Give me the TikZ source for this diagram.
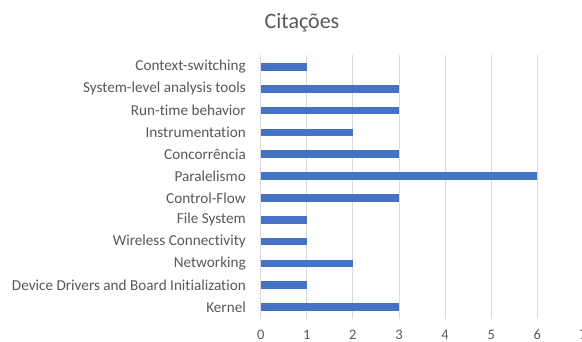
\documentclass[tikz,border=0pt]{standalone}
\usepackage{fontspec}
\setmainfont{Carlito}[Ligatures={NoCommon}]
\definecolor{barblue}{HTML}{4472C4}
\definecolor{txtgray}{HTML}{595959}
\definecolor{gridgray}{HTML}{D9D9D9}
\tikzset{
  bar/.style={fill=barblue, draw=none},
  gridline/.style={draw=gridgray, line width=0.9pt},
  catlabel/.style={anchor=east, inner sep=0pt, text=txtgray, font=\fontsize{15.2}{15.2}\selectfont},
  ticklabel/.style={anchor=center, inner sep=0pt, text=txtgray, font=\fontsize{14.5}{14.5}\selectfont},
  titlelabel/.style={anchor=center, inner sep=0pt, text=txtgray, font=\fontsize{22}{22}\selectfont}
}
\begin{document}
\begin{tikzpicture}[x=1pt, y=-1pt]
\useasboundingbox (0,0) rectangle (582,341);
\fill[white] (0,0) rectangle (582,341);
\node[titlelabel] (title) at (302,23) {Citações};
% gridlines and tick labels
\foreach \v in {0,...,7}{
  \pgfmathsetmacro{\gx}{260.7+46.1*\v}
  \ifnum\v<7
    \draw[gridline] (\gx,55) -- (\gx,319);
  \fi
  \node[ticklabel] (tick\v) at (\gx,334.5) {\v};
}
% bars
\foreach \i/\name/\val in {0/Context-switching/1, 1/System-level analysis tools/3, 2/Run-time behavior/3, 3/Instrumentation/2, 4/Concorrência/3, 5/Paralelismo/6, 6/Control-Flow/3, 7/File System/1, 8/Wireless Connectivity/1, 9/Networking/2, 10/Device Drivers and Board Initialization/1, 11/Kernel/3}{
  \pgfmathsetmacro{\cy}{67+21.82*\i}
  \pgfmathsetmacro{\bx}{260.7+46.1*\val}
  \fill[bar] (260.7,\cy-3.8) rectangle (\bx,\cy+3.8);
  \node[catlabel] (cat\i) at (246,\cy) {\name};
}
\end{tikzpicture}
\end{document}
